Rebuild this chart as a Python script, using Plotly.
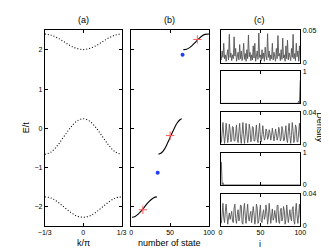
import plotly.graph_objects as go

# ---------------- data ----------------
# panel (a): band structure, k/pi and E/t
k_vals = [-1/3, -5/18, -2/9, -1/6, -1/9, -1/18, 0, 1/18, 1/9, 1/6, 2/9, 5/18, 1/3]
band_top = [2.41, 2.38, 2.31, 2.21, 2.11, 2.04, 2.01, 2.04, 2.11, 2.21, 2.31, 2.38, 2.41]
band_mid = [-0.67, -0.61, -0.44, -0.215, 0.01, 0.18, 0.24, 0.18, 0.01, -0.215, -0.44, -0.61, -0.67]
band_bot = [-1.76, -1.79, -1.89, -2.02, -2.15, -2.25, -2.28, -2.25, -2.15, -2.02, -1.89, -1.79, -1.76]

# panel (b): sorted eigen-energies vs number of state
st_bot = [1, 5, 9, 13, 17, 21, 25, 29, 33]
e_bot = [-2.28, -2.26, -2.20, -2.12, -2.02, -1.92, -1.84, -1.78, -1.76]
st_mid = [35, 39, 43, 47, 51, 55, 59, 63, 65]
e_mid = [-0.67, -0.63, -0.53, -0.37, -0.19, -0.02, 0.13, 0.22, 0.24]
st_top = [67, 71, 75, 79, 83, 87, 91, 95, 100]
e_top = [2.01, 2.02, 2.06, 2.13, 2.21, 2.29, 2.36, 2.40, 2.41]
edge_states = [34, 66]
edge_energies = [-1.14, 1.88]
marked_states = [15, 50, 85]
marked_energies = [-2.09, -0.19, 2.27]

# panel (c): density vs site i
sites = list(range(1, 101))
dens1 = [0.004, 0.018, 0.008, 0.030, 0.006, 0.012, 0.002,
         0.010, 0.020, 0.004, 0.044, 0.008, 0.015, 0.003,
         0.012, 0.006, 0.040, 0.010, 0.022, 0.002, 0.008,
         0.016, 0.004, 0.028, 0.006, 0.018, 0.003, 0.010,
         0.030, 0.005, 0.014, 0.002, 0.020, 0.006, 0.043,
         0.009, 0.016, 0.003, 0.012, 0.004, 0.026, 0.007,
         0.030, 0.002, 0.010, 0.018, 0.005, 0.046, 0.008,
         0.012, 0.003, 0.020, 0.006, 0.015, 0.002, 0.024,
         0.010, 0.004, 0.045, 0.008, 0.018, 0.003, 0.012,
         0.006, 0.030, 0.004, 0.016, 0.009, 0.002, 0.022,
         0.006, 0.042, 0.010, 0.014, 0.003, 0.020, 0.005,
         0.038, 0.007, 0.012, 0.002, 0.026, 0.006, 0.035,
         0.004, 0.015, 0.010, 0.003, 0.022, 0.008, 0.044,
         0.006, 0.014, 0.003, 0.030, 0.009, 0.018, 0.002,
         0.026, 0.004]
dens2 = [0.0] * 96 + [0.0, 0.07, 0.01, 0.72]
dens3 = [0.002, 0.014, 0.027, 0.012, 0.001,
         0.010, 0.026, 0.015, 0.002, 0.008,
         0.025, 0.018, 0.003, 0.006, 0.022,
         0.021, 0.004, 0.004, 0.019, 0.024,
         0.006, 0.002, 0.016, 0.026, 0.009,
         0.001, 0.013, 0.027, 0.012, 0.001,
         0.010, 0.026, 0.015, 0.002, 0.008,
         0.025, 0.018, 0.003, 0.006, 0.022,
         0.021, 0.004, 0.004, 0.019, 0.024,
         0.006, 0.002, 0.016, 0.026, 0.009,
         0.003, 0.012, 0.023, 0.012, 0.005,
         0.008, 0.019, 0.016, 0.006, 0.009,
         0.018, 0.014, 0.005, 0.011, 0.020,
         0.012, 0.004, 0.010, 0.019, 0.013,
         0.005, 0.009, 0.021, 0.016, 0.004,
         0.007, 0.022, 0.018, 0.004, 0.005,
         0.020, 0.023, 0.006, 0.002, 0.016,
         0.026, 0.011, 0.001, 0.011, 0.027,
         0.016, 0.002, 0.006, 0.024, 0.021,
         0.003, 0.003, 0.020, 0.026, 0.008]
dens4 = [0.72, 0.01, 0.07, 0.0] + [0.0] * 96
dens5 = [0.003, 0.020, 0.028, 0.010, 0.004, 0.018,
         0.027, 0.014, 0.002, 0.010, 0.016, 0.008,
         0.012, 0.018, 0.006, 0.004, 0.022, 0.027,
         0.009, 0.003, 0.014, 0.020, 0.006, 0.010,
         0.026, 0.025, 0.004, 0.002, 0.020, 0.028,
         0.012, 0.003, 0.016, 0.027, 0.010, 0.006,
         0.014, 0.018, 0.004, 0.011, 0.024, 0.015,
         0.002, 0.008, 0.027, 0.022, 0.003, 0.006,
         0.024, 0.026, 0.006, 0.004, 0.015, 0.020,
         0.008, 0.012, 0.026, 0.018, 0.002, 0.010,
         0.028, 0.016, 0.003, 0.012, 0.021, 0.007,
         0.010, 0.019, 0.012, 0.004, 0.025, 0.026,
         0.005, 0.003, 0.018, 0.022, 0.006, 0.010,
         0.024, 0.019, 0.002, 0.008, 0.026, 0.017,
         0.004, 0.012, 0.020, 0.010, 0.006, 0.021,
         0.024, 0.006, 0.002, 0.018, 0.028, 0.012,
         0.003, 0.014, 0.027, 0.010]
dens_list = [dens1, dens2, dens3, dens4, dens5]
dens_max = [0.05, 1, 0.04, 1, 0.04]
dens_ticklabels = ["0.05", "1", "0.04", "1", "0.04"]

e_ticks = [-2, -1, 0, 1, 2]
e_ticklabels = ["\u22122", "\u22121", "0", "1", "2"]
k_ticks = [-1/3, 0, 1/3]
k_ticklabels = ["\u22121/3", "0", "1/3"]

# ---------------- layout helpers ----------------
W, H = 329, 248
FONT = "Liberation Sans, Arial, sans-serif"


def px_x(a, b):
    return [a / W, b / W]


def px_y(top, bottom):
    return [(H - bottom) / H, (H - top) / H]


fig = go.Figure()

# panel (a)
for band in (band_top, band_mid, band_bot):
    fig.add_trace(go.Scatter(x=k_vals, y=band, mode="lines",
                             line=dict(color="black", width=1.1, dash="1px,2px", shape="spline"),
                             xaxis="x", yaxis="y", showlegend=False, hoverinfo="skip"))

# panel (b)
for xs, ys in ((st_bot, e_bot), (st_mid, e_mid), (st_top, e_top)):
    fig.add_trace(go.Scatter(x=xs, y=ys, mode="lines",
                             line=dict(color="black", width=1.1, shape="spline"),
                             xaxis="x2", yaxis="y2", showlegend=False))
fig.add_trace(go.Scatter(x=edge_states, y=edge_energies, mode="markers",
                         marker=dict(color="#1f3cff", size=4),
                         xaxis="x2", yaxis="y2", showlegend=False))
fig.add_trace(go.Scatter(x=marked_states, y=marked_energies, mode="markers",
                         marker=dict(color="#ff5a5a", size=6, symbol="cross-thin",
                                     line=dict(color="#ff5a5a", width=1)),
                         xaxis="x2", yaxis="y2", showlegend=False))

# panel (c)
c_rows = [(19, 52), (61, 94), (103, 136), (145, 178), (187, 220)]
for n, d in enumerate(dens_list):
    ax = n + 3
    fig.add_trace(go.Scatter(x=sites, y=d, mode="lines",
                             line=dict(color="#555555", width=0.9),
                             xaxis=f"x{ax}", yaxis=f"y{ax}", showlegend=False))

axis_common = dict(showline=True, linecolor="black", linewidth=1, mirror="ticks",
                   ticks="inside", ticklen=3, tickcolor="black", showgrid=False,
                   zeroline=False, tickfont=dict(size=7, family=FONT, color="black"))

layout = dict(
    width=W, height=H, margin=dict(l=0, r=0, t=0, b=0),
    paper_bgcolor="white", plot_bgcolor="white", showlegend=False,
    font=dict(family=FONT, color="black"),
    xaxis=dict(domain=px_x(31, 111), range=[-1/3, 1/3], tickvals=k_ticks,
               ticktext=k_ticklabels, anchor="y", **axis_common),
    yaxis=dict(domain=px_y(19, 220), range=[-2.5, 2.5], tickvals=e_ticks,
               ticktext=e_ticklabels, anchor="x", **axis_common),
    xaxis2=dict(domain=px_x(121, 202), range=[0, 100], tickvals=[0, 50, 100],
                anchor="y2", **axis_common),
    yaxis2=dict(domain=px_y(19, 220), range=[-2.5, 2.5], tickvals=e_ticks,
                showticklabels=False, anchor="x2", **axis_common),
)

for n, (top, bot) in enumerate(c_rows):
    ax = n + 3
    last = (n == len(c_rows) - 1)
    layout[f"xaxis{ax}"] = dict(domain=px_x(214, 297), range=[0, 100], tickvals=[0, 50, 100],
                                showticklabels=last, anchor=f"y{ax}", **axis_common)
    yc = dict(axis_common)
    yc["ticks"] = ""
    layout[f"yaxis{ax}"] = dict(domain=px_y(top, bot), range=[0, dens_max[n]],
                                tickvals=[0, dens_max[n]], ticktext=["0", dens_ticklabels[n]],
                                side="right", anchor=f"x{ax}", **yc)

fig.update_layout(**layout)

ann_font = dict(size=9, family=FONT, color="black")
annotations = [
    dict(text="(a)", x=71 / W, y=(H - 8) / H),
    dict(text="(b)", x=161 / W, y=(H - 8) / H),
    dict(text="(c)", x=255 / W, y=(H - 8) / H),
    dict(text="k/\u03c0", x=71 / W, y=(H - 238) / H),
    dict(text="number of state", x=161 / W, y=(H - 238) / H),
    dict(text="i", x=255 / W, y=(H - 239) / H),
    dict(text="E/t", x=11 / W, y=(H - 119) / H, textangle=-90),
    dict(text="Density", x=318 / W, y=(H - 119) / H, textangle=90),
]
fig.update_layout(annotations=[dict(a, xref="paper", yref="paper", showarrow=False,
                                     xanchor="center", yanchor="middle", font=ann_font)
                               for a in annotations])

fig.write_html("out.html")
